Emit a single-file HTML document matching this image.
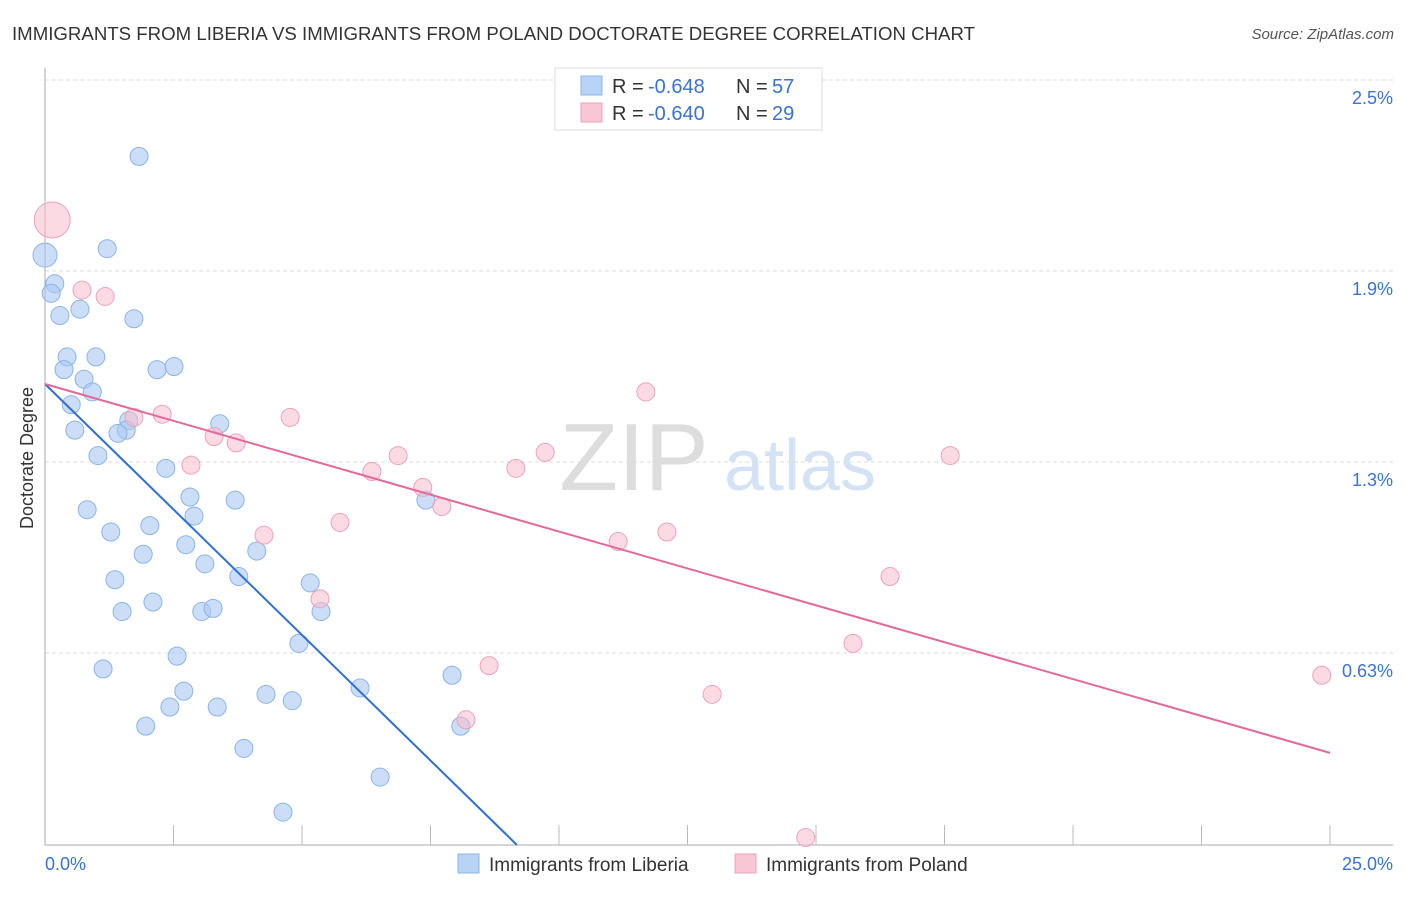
<!DOCTYPE html>
<html><head><meta charset="utf-8"><style>
body{margin:0;background:#fff;font-family:"Liberation Sans",sans-serif}
svg text{font-family:"Liberation Sans",sans-serif}
</style></head><body>
<svg id="chart" width="1406" height="892" viewBox="0 0 1406 892">
<text x="12" y="40" font-size="18" fill="#333" textLength="963" lengthAdjust="spacingAndGlyphs">IMMIGRANTS FROM LIBERIA VS IMMIGRANTS FROM POLAND DOCTORATE DEGREE CORRELATION CHART</text>
<text x="1394" y="39" font-size="15" fill="#555" font-style="italic" text-anchor="end">Source: ZipAtlas.com</text>
<g><text x="634" y="490" font-size="96" fill="#ddd" text-anchor="middle" font-family="Liberation Serif">ZIP</text><text x="800" y="490" font-size="72" fill="#d4e2f5" text-anchor="middle">atlas</text></g>
<g id="grid"></g><g id="axes"></g><g id="marks"></g>
<text transform="translate(33,458) rotate(-90)" font-size="18" fill="#333" text-anchor="middle">Doctorate Degree</text>
<g>
<rect x="555" y="68" width="267" height="62" fill="#fff" stroke="#ddd"/>
<rect x="581" y="76" width="21" height="19" fill="#b8d3f5" stroke="#8ab4ec"/>
<text x="612" y="93" font-size="20" fill="#333">R =</text><text x="648" y="93" font-size="20" fill="#3a72d8">-0.648</text>
<text x="736" y="93" font-size="20" fill="#333">N =</text><text x="772" y="93" font-size="20" fill="#3a72d8">57</text>
<rect x="581" y="103" width="21" height="19" fill="#f9c6d5" stroke="#eda3bb"/>
<text x="612" y="120" font-size="20" fill="#333">R =</text><text x="648" y="120" font-size="20" fill="#3a72d8">-0.640</text>
<text x="736" y="120" font-size="20" fill="#333">N =</text><text x="772" y="120" font-size="20" fill="#3a72d8">29</text>
</g>
<g>
<rect x="458" y="854" width="21" height="19" fill="#b8d3f5" stroke="#8ab4ec"/>
<text x="489" y="871" font-size="19" fill="#333">Immigrants from Liberia</text>
<rect x="735" y="854" width="21" height="19" fill="#f9c6d5" stroke="#eda3bb"/>
<text x="766" y="871" font-size="19" fill="#333">Immigrants from Poland</text>
</g>
</svg>
<script>
const yTicks=[2.5,1.9,1.3,0.7];
const yTickLabels=["2.5%","1.9%","1.3%","0.63%"];
const xTicks=[0,2.5,5,7.5,10,12.5,15,17.5,20,22.5,25];
const liberiaX=[1.83,0,1.21,0.19,0.12,0.68,0.29,1.73,0.43,0.99,0.37,2.18,2.51,0.76,0.92,0.51,1.63,0.58,1.58,1.42,3.4,1.03,2.35,2.82,3.7,0.82,2.9,2.04,1.28,2.74,1.91,4.12,3.11,1.36,3.77,5.16,2.1,1.5,3.05,3.27,5.37,4.94,2.57,1.13,7.92,2.7,4.3,6.13,2.43,3.35,4.81,1.96,8.09,3.87,6.52,4.63,7.41];
const liberiaY=[2.26,1.95,1.97,1.86,1.83,1.78,1.76,1.75,1.63,1.63,1.59,1.59,1.6,1.56,1.52,1.48,1.43,1.4,1.4,1.39,1.42,1.32,1.28,1.19,1.18,1.15,1.13,1.1,1.08,1.04,1.01,1.02,0.98,0.93,0.94,0.92,0.86,0.83,0.83,0.84,0.83,0.73,0.69,0.65,0.63,0.58,0.57,0.59,0.53,0.53,0.55,0.47,0.47,0.4,0.31,0.2,1.18];
const polandX=[0.14,0.72,1.17,11.69,4.77,2.28,1.73,3.29,3.72,6.87,9.73,17.61,2.84,6.36,9.16,7.35,7.72,5.74,4.26,12.1,11.15,16.44,5.35,15.72,8.64,12.98,24.84,8.19,14.8];
const polandY=[2.06,1.84,1.82,1.52,1.44,1.45,1.44,1.38,1.36,1.32,1.33,1.32,1.29,1.27,1.28,1.22,1.16,1.11,1.07,1.08,1.05,0.94,0.87,0.73,0.66,0.57,0.63,0.49,0.12];
const liberiaSize=[9,12,9,9,9,9,9,9,9,9,9,9,9,9,9,9,9,9,9,9,9,9,9,9,9,9,9,9,9,9,9,9,9,9,9,9,9,9,9,9,9,9,9,9,9,9,9,9,9,9,9,9,9,9,9,9,9];
const liberiaTrend=[[0,1.545],[9.18,0.097]];
const polandTrend=[[0,1.545],[25,0.386]];
const X=v=>45+v/25*1285, Y=v=>80+(2.5-v)*318.3;
const NS="http://www.w3.org/2000/svg";
function mk(tag,attrs,parent){const e=document.createElementNS(NS,tag);for(const k in attrs)e.setAttribute(k,attrs[k]);document.getElementById(parent).appendChild(e);return e;}
yTicks.forEach((t,i)=>{
 const l=mk('line',{x1:45,x2:1393,y1:Y(t),y2:Y(t),stroke:'#ddd','stroke-dasharray':'4,3'},'grid');
 
 
 const tx=mk('text',{x:1393,y:Y(t)+24,'font-size':18,fill:'#3a72d8','text-anchor':'end'},'grid');tx.textContent=yTickLabels[i];
 
 
});
const ax=mk('line',{x1:45,x2:1393,y1:845,y2:845,stroke:'#aaa'},'axes');


const ay=mk('line',{x1:45,x2:45,y1:68,y2:845,stroke:'#aaa'},'axes');


xTicks.slice(1).forEach(t=>{const l=mk('line',{x1:X(t),x2:X(t),y1:825,y2:845,stroke:'#bbb'},'axes');
 
 });
let t0=mk('text',{x:45,y:870,'font-size':18,fill:'#3a72d8'},'axes');t0.textContent='0.0%';


let t1=mk('text',{x:1393,y:870,'font-size':18,fill:'#3a72d8','text-anchor':'end'},'axes');t1.textContent='25.0%';


liberiaX.forEach((x,i)=>{const c=mk('circle',{cx:X(x),cy:Y(liberiaY[i]),r:liberiaSize[i],fill:'rgba(170,200,242,0.6)',stroke:'#8ab4ec','stroke-width':1},'marks');
 
 });
polandX.forEach((x,i)=>{const c=mk('circle',{cx:X(x),cy:Y(polandY[i]),r:i==0?18:9,fill:'rgba(247,188,206,0.55)',stroke:'#eda3bb','stroke-width':1},'marks');
 
 });
const lt=mk('line',{x1:X(liberiaTrend[0][0]),y1:Y(liberiaTrend[0][1]),x2:X(liberiaTrend[1][0]),y2:Y(liberiaTrend[1][1]),stroke:'#2f6fd6','stroke-width':2},'marks');


const pt=mk('line',{x1:X(polandTrend[0][0]),y1:Y(polandTrend[0][1]),x2:X(polandTrend[1][0]),y2:Y(polandTrend[1][1]),stroke:'#e4689a','stroke-width':2},'marks');


</script>
</body></html>
